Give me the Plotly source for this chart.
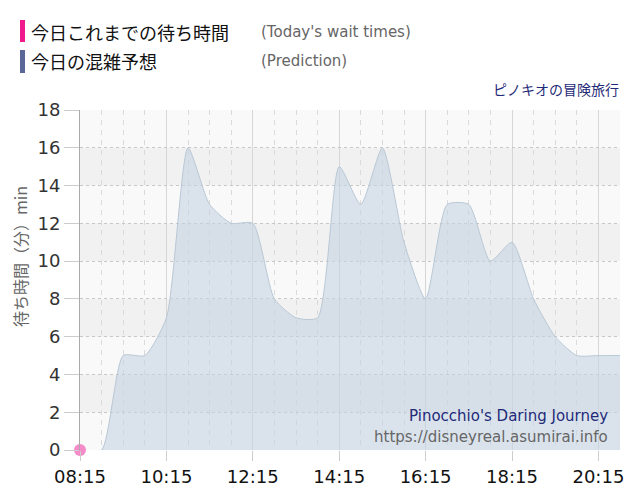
import plotly.graph_objects as go

# prediction every 30 min from 08:15
times = ["08:15", "08:45", "09:15", "09:45", "10:15", "10:45", "11:15", "11:45",
         "12:15", "12:45", "13:15", "13:45", "14:15", "14:45", "15:15", "15:45",
         "16:15", "16:45", "17:15", "17:45", "18:15", "18:45", "19:15", "19:45",
         "20:15", "20:45"]
prediction = [0, 0, 5, 5, 7, 16, 13, 12, 12, 8, 7, 7, 15, 13, 16, 11,
              8, 13, 13, 10, 11, 8, 6, 5, 5, 5]

actual_times = ["08:15"]
actual = [0]

y_ticks = [0, 2, 4, 6, 8, 10, 12, 14, 16, 18]
x_ticks = ["08:15", "10:15", "12:15", "14:15", "16:15", "18:15", "20:15"]

day = "2024-01-01 "
font = "DejaVu Sans, Verdana, Noto Sans CJK JP, sans-serif"
jp_font = "Noto Sans CJK JP, DejaVu Sans, sans-serif"

fig = go.Figure()

fig.add_trace(go.Scatter(
    x=[day + t for t in times], y=prediction,
    mode="lines", line=dict(color="#b9c8d5", width=1, shape="spline", smoothing=0.6),
    fill="tozeroy", fillcolor="rgba(196,212,226,0.6)",
    hoverinfo="skip", showlegend=False))

fig.add_trace(go.Scatter(
    x=[day + t for t in actual_times], y=actual,
    mode="markers", marker=dict(color="#f48ac8", size=12),
    cliponaxis=False, showlegend=False))

# alternating horizontal bands
for lo in y_ticks[1:-1:2]:
    fig.add_shape(type="rect", xref="paper", yref="y", x0=0, x1=1, y0=lo, y1=lo + 2,
                  fillcolor="#f1f1f1", line_width=0, layer="below")


# page pixel -> paper coords (plot area is 80..620 x 110..450 on the page)
def px_x(p):
    return (p - 80) / 540


def px_y(p):
    return (450 - p) / 340


# legend bars and texts
fig.add_shape(type="rect", xref="paper", yref="paper", x0=px_x(20), x1=px_x(25),
              y0=px_y(42), y1=px_y(20), fillcolor="#f01a8c", line_width=0)
fig.add_shape(type="rect", xref="paper", yref="paper", x0=px_x(20), x1=px_x(25),
              y0=px_y(73), y1=px_y(50), fillcolor="#5b6796", line_width=0)

notes = [
    (29, 32, "今日これまでの待ち時間", 18, "#111", "left", jp_font),
    (259, 32, "(Today's wait times)", 15, "#666", "left", font),
    (29, 61, "今日の混雑予想", 18, "#111", "left", jp_font),
    (259, 61, "(Prediction)", 15, "#666", "left", font),
    (621, 89, "ピノキオの冒険旅行", 14, "#1f2a78", "right", jp_font),
    (610, 416, "Pinocchio's Daring Journey", 15, "#1f2a78", "right", font),
    (610, 437, "https://disneyreal.asumirai.info", 15, "#666", "right", font),
]
for x, y, text, size, color, anchor, fam in notes:
    fig.add_annotation(xref="paper", yref="paper", x=px_x(x), y=px_y(y), text=text,
                       showarrow=False, xanchor=anchor, yanchor="middle",
                       font=dict(size=size, color=color, family=fam))

fig.add_annotation(xref="paper", yref="paper", x=px_x(20), y=px_y(257),
                   text="待ち時間（分）min", textangle=-90, showarrow=False,
                   xanchor="center", yanchor="middle",
                   font=dict(size=16, color="#666", family=jp_font))

fig.update_xaxes(
    type="date", range=[day + "08:15", day + "20:45"],
    tickvals=[day + t for t in x_ticks], ticktext=x_ticks,
    ticks="outside", ticklen=10, tickcolor="#ccc",
    showgrid=True, gridcolor="#d6d6d6", gridwidth=1,
    minor=dict(dtick=30 * 60 * 1000, tick0=day + "08:15", showgrid=True,
               gridcolor="#dadada", griddash="5px,5px", ticks=""),
    showline=False, zeroline=False,
    tickfont=dict(size=18, color="#111", family=font))

fig.update_yaxes(
    range=[0, 18], tickvals=y_ticks,
    ticks="outside", ticklen=15, tickcolor="#ccc",
    showgrid=True, gridcolor="#c8c8c8", griddash="dot",
    showline=True, linecolor="#aaa", linewidth=1, zeroline=False,
    tickfont=dict(size=18, color="#333", family=font))

# page body adds an 8px margin, so the figure is 632x492
fig.update_layout(
    width=632, height=492,
    margin=dict(l=72, r=20, t=102, b=50),
    paper_bgcolor="white", plot_bgcolor="#f9f9f9",
    showlegend=False)

fig.write_html("out.html")
